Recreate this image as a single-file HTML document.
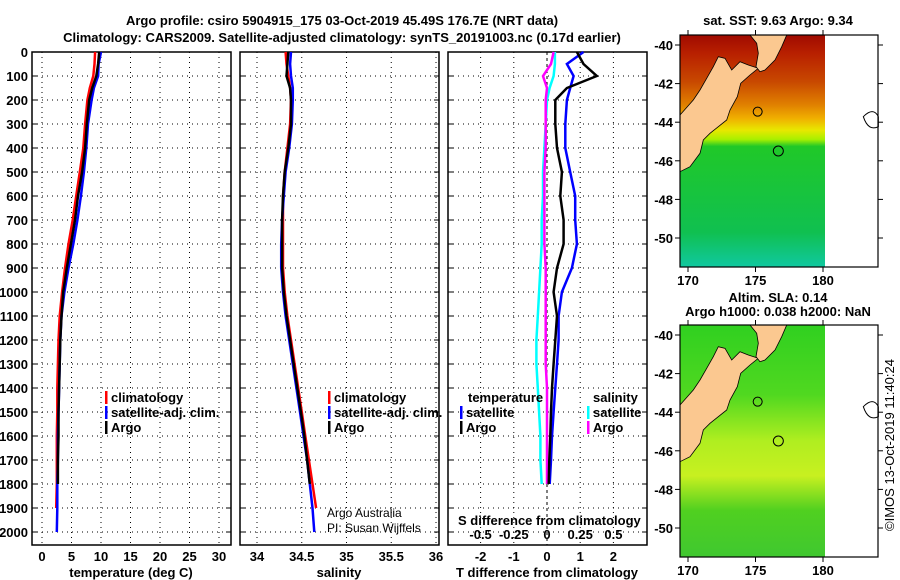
<!DOCTYPE html>
<html><head><meta charset="utf-8"><style>
body{margin:0;background:#fff}
svg{display:block;font-family:"Liberation Sans",sans-serif}
.b{font-weight:bold;font-size:13px}
</style></head><body>
<svg id="s" width="900" height="580" xmlns="http://www.w3.org/2000/svg">
<defs>
<linearGradient id="sst" x1="0" y1="0" x2="0" y2="1">
<stop offset="0" stop-color="#a00a00"/><stop offset="0.08" stop-color="#b82000"/><stop offset="0.2" stop-color="#c84800"/><stop offset="0.3" stop-color="#e08000"/><stop offset="0.36" stop-color="#f0b000"/><stop offset="0.41" stop-color="#e8e800"/><stop offset="0.45" stop-color="#a8f000"/><stop offset="0.48" stop-color="#20c828"/><stop offset="0.85" stop-color="#10c050"/><stop offset="1" stop-color="#10c8a0"/>
</linearGradient>
<linearGradient id="sla" x1="0" y1="0" x2="0" y2="1">
<stop offset="0" stop-color="#30d020"/><stop offset="0.3" stop-color="#50d820"/><stop offset="0.5" stop-color="#b0ee20"/><stop offset="0.65" stop-color="#c8f020"/><stop offset="0.8" stop-color="#50d020"/><stop offset="1" stop-color="#40c830"/>
</linearGradient>
</defs>
<g id="g"></g>
</svg>
<script>
// ---- data ----
const depths=[0,50,100,150,200,300,400,500,600,700,800,900,1000,1100,1200,1300,1400,1500,1600,1700,1800];
const argoT=[9.7,9.5,9.2,8.5,8.0,7.6,7.3,6.8,6.1,5.6,4.9,4.2,3.6,3.3,3.1,3.0,2.9,2.8,2.8,2.7,2.7];
const climDepths=[0,50,100,150,200,300,400,500,600,700,800,900,1000,1100,1200,1300,1400,1500,1600,1700,1800,1900];
const climT=[9.0,8.9,8.7,8.1,7.7,7.3,7.0,6.4,5.8,5.2,4.5,3.9,3.4,3.0,2.8,2.7,2.6,2.6,2.5,2.5,2.5,2.4];
const satDepths=[0,50,100,150,200,300,400,500,600,700,800,900,1000,1100,1200,1300,1400,1500,1600,1700,1800,1900,2000];
const satT=[10.0,9.6,9.5,8.8,8.4,7.8,7.5,7.1,6.6,6.0,5.3,4.5,3.8,3.3,3.1,3.0,2.9,2.8,2.7,2.7,2.6,2.6,2.5];
const argoS=[34.35,34.34,34.33,34.37,34.38,34.38,34.35,34.31,34.29,34.28,34.28,34.28,34.30,34.33,34.37,34.41,34.45,34.49,34.53,34.56,34.59];
const climS=[34.32,34.33,34.35,34.37,34.38,34.37,34.34,34.31,34.29,34.29,34.29,34.29,34.31,34.34,34.38,34.42,34.46,34.50,34.54,34.58,34.62,34.66];
const satS=[34.38,34.37,34.38,34.40,34.40,34.39,34.36,34.32,34.30,34.28,34.27,34.27,34.29,34.32,34.36,34.40,34.44,34.48,34.52,34.56,34.59,34.62,34.64];
const dTargo=[0.9,1.1,1.5,0.6,0.25,0.25,0.3,0.45,0.4,0.5,0.5,0.3,0.2,0.3,0.25,0.2,0.15,0.12,0.1,0.07,0.05];
const dTsat=[1.1,0.6,0.8,0.7,0.6,0.55,0.55,0.7,0.85,0.85,0.9,0.75,0.45,0.35,0.35,0.3,0.25,0.2,0.15,0.12,0.08];
const dSargo=[0.05,0.03,-0.03,0.0,-0.01,-0.01,-0.01,-0.02,-0.02,-0.02,-0.02,-0.01,-0.01,-0.01,-0.01,-0.01,0.0,0.0,0.0,0.0,0.0];
const dSsat=[0.06,0.06,0.05,0.02,0.0,-0.01,-0.02,-0.03,-0.03,-0.04,-0.04,-0.05,-0.06,-0.07,-0.08,-0.08,-0.07,-0.06,-0.05,-0.05,-0.04];
const depthTicks=[0,100,200,300,400,500,600,700,800,900,1000,1100,1200,1300,1400,1500,1600,1700,1800,1900,2000];
const tTicks=[0,5,10,15,20,25,30];
const sTicks=[34,34.5,35,35.5,36];
const dTTicks=[-2,-1,0,1,2];
const dSTickLabels=["-0.5","-0.25","0","0.25","0.5"];
const latTicks=[-40,-42,-44,-46,-48,-50];
const lonTicks=[170,175,180];

const NS="http://www.w3.org/2000/svg",G=document.getElementById('g');
function el(t,a,p){const e=document.createElementNS(NS,t);for(const k in a)e.setAttribute(k,a[k]);(p||G).appendChild(e);return e;}
function txt(x,y,s,a,p){const e=el('text',Object.assign({x:x,y:y},a),p);e.textContent=s;return e;}
const yD=d=>52+d*0.24;
const panels=[{x0:32,x1:231,sx:v=>42+v*5.9,ticks:tTicks,name:'temperature'},{x0:240,x1:439,sx:v=>257+(v-34)*89.5,ticks:sTicks,name:'salinity'},{x0:448,x1:647,sx:v=>547+v*33.2,ticks:dTTicks,name:'difference'}];
panels.forEach((P,i)=>{
  const g=el('g',{});
  
  
  depthTicks.forEach(d=>{
    if(d>0)el('line',{x1:P.x0,x2:P.x1,y1:yD(d),y2:yD(d),stroke:'#000','stroke-dasharray':'1 4','stroke-width':1},g);
    el('line',{x1:P.x0,x2:P.x0+5,y1:yD(d),y2:yD(d),stroke:'#000'},g);
    el('line',{x1:P.x1-5,x2:P.x1,y1:yD(d),y2:yD(d),stroke:'#000'},g);
  });
  P.ticks.forEach(v=>{const x=P.sx(v);
    el('line',{x1:x,x2:x,y1:52,y2:545,stroke:'#000','stroke-dasharray':(i==2&&v==0)?'3 3':'1 4'},g);
    const t=txt(x,561,String(v),{class:'b','text-anchor':'middle'},g);
    
  });
  el('rect',{x:P.x0,y:52,width:P.x1-P.x0,height:493,fill:'none',stroke:'#000','stroke-width':1.5},g);
});
depthTicks.forEach(d=>{const t=txt(28,yD(d)+5,String(d),{class:'b','text-anchor':'end'});
  });
dSTickLabels.forEach((s,i)=>txt(panels[2].sx(dTTicks[i]),539,s,{class:'b','text-anchor':'middle'}));
function line(xs,ds,sx,col,name){
  let pts=xs.map((v,i)=>sx(v).toFixed(1)+','+yD(ds[i]).toFixed(1)).join(' ');
  const p=el('polyline',{points:pts,fill:'none',stroke:col,'stroke-width':2.5});
  
  
}
const P0=panels[0].sx,P1=panels[1].sx,P2=panels[2].sx,PS=v=>547+v*132;
line(climT,climDepths,P0,'#f00','climatology-temperature-line');
line(satT,satDepths,P0,'#00f','satellite-temperature-line');
line(argoT,depths,P0,'#000','argo-temperature-line');
line(climS,climDepths,P1,'#f00','climatology-salinity-line');
line(satS,satDepths,P1,'#00f','satellite-salinity-line');
line(argoS,depths,P1,'#000','argo-salinity-line');
line(dSsat,depths,PS,'#0ff','satellite-salinity-diff-line');
line(dSargo,depths,PS,'#f0f','argo-salinity-diff-line');
line(dTsat,depths,P2,'#00f','satellite-temperature-diff-line');
line(dTargo,depths,P2,'#000','argo-temperature-diff-line');
function leg(x,y,col,s){el('rect',{x:x,y:y-11,width:2.5,height:13,fill:col});const t=txt(x+6,y,s,{class:'b'});
  }
leg(105,402,'#f00','climatology');leg(105,417,'#00f','satellite-adj. clim.');leg(105,432,'#000','Argo');
leg(328,402,'#f00','climatology');leg(328,417,'#00f','satellite-adj. clim.');leg(328,432,'#000','Argo');
txt(468,402,'temperature',{class:'b'});leg(460,417,'#00f','satellite');leg(460,432,'#000','Argo');
txt(593,402,'salinity',{class:'b'});leg(587,417,'#0ff','satellite');leg(587,432,'#f0f','Argo');
txt(327,517,'Argo Australia',{'font-size':'12px'});txt(327,532,'PI: Susan Wijffels',{'font-size':'12px'});
txt(458,525,'S difference from climatology',{class:'b'});
txt(131,577,'temperature (deg C)',{class:'b','text-anchor':'middle'});
txt(339,577,'salinity',{class:'b','text-anchor':'middle'});
txt(547,577,'T difference from climatology',{class:'b','text-anchor':'middle'});
txt(342,25,'Argo profile: csiro 5904915_175 03-Oct-2019 45.49S 176.7E (NRT data)',{class:'b','font-size':'14px','text-anchor':'middle'}).setAttribute('font-size','14');
txt(342,42,'Climatology: CARS2009. Satellite-adjusted climatology: synTS_20191003.nc (0.17d earlier)',{class:'b','text-anchor':'middle'});
// maps
const land=[[90,515],[120,500],[150,460],[160,420],[180,400],[230,360],[240,330],[262,290],[272,250],[300,225],[325,205],[295,195],[270,185],[245,210],[225,175],[205,170],[190,200],[170,235],[150,270],[130,300],[90,345]];
const north=[[300,105],[410,105],[395,140],[375,180],[345,210],[330,215],[318,200],[325,160],[320,130]];
function map(oy,grad,name,t1,t2){
  const g=el('g',{});
  
  
  el('rect',{x:680,y:oy+35,width:145,height:232,fill:'url(#'+grad+')'},g);
  const tr=a=>a.map(p=>(650+p[0]/3).toFixed(1)+','+(oy+p[1]/3-35+35).toFixed(1)).join(' ');
  el('polygon',{points:tr(land),fill:'#fbc890',stroke:'#000','stroke-width':0.8},g);
  el('polygon',{points:tr(north),fill:'#fbc890',stroke:'#000','stroke-width':0.8},g);
  el('circle',{cx:650+385/3,cy:oy+453/3,r:5,fill:'none',stroke:'#000'},g);
  el('circle',{cx:650+323/3,cy:oy+335/3,r:4.5,fill:'none',stroke:'#000'},g);
  el('path',{d:`M${650+640/3} ${oy+350/3} q10 -10 15 0 v10 q-10 5 -15 -10z`,fill:'none',stroke:'#000'},g);
  el('rect',{x:680,y:oy+35,width:198,height:232,fill:'none',stroke:'#000','stroke-width':1.2},g);
  latTicks.forEach(l=>{const y=oy+45+(-40-l)*19.3;
    el('line',{x1:675,x2:680,y1:y,y2:y,stroke:'#000'},g);el('line',{x1:878,x2:883,y1:y,y2:y,stroke:'#000'},g);
    txt(673,y+5,String(l),{class:'b','text-anchor':'end'},g);});
  lonTicks.forEach(l=>{const x=688+(l-170)*13.5;
    el('line',{x1:x,x2:x,y1:oy+30,y2:oy+35,stroke:'#000'},g);el('line',{x1:x,x2:x,y1:oy+267,y2:oy+272,stroke:'#000'},g);
    txt(x,oy+285,String(l),{class:'b','text-anchor':'middle'},g);});
}
map(0,'sst','sst-map');map(290,'sla','sla-map');
txt(778,25,'sat. SST: 9.63 Argo: 9.34',{class:'b','text-anchor':'middle'});
txt(778,302,'Altim. SLA: 0.14',{class:'b','text-anchor':'middle'});
txt(778,316,'Argo h1000: 0.038 h2000: NaN',{class:'b','text-anchor':'middle'});
txt(0,0,'©IMOS 13-Oct-2019 11:40:24',{'font-size':'13px','text-anchor':'middle',transform:'translate(894,445) rotate(-90)'});
</script>
</body></html>
